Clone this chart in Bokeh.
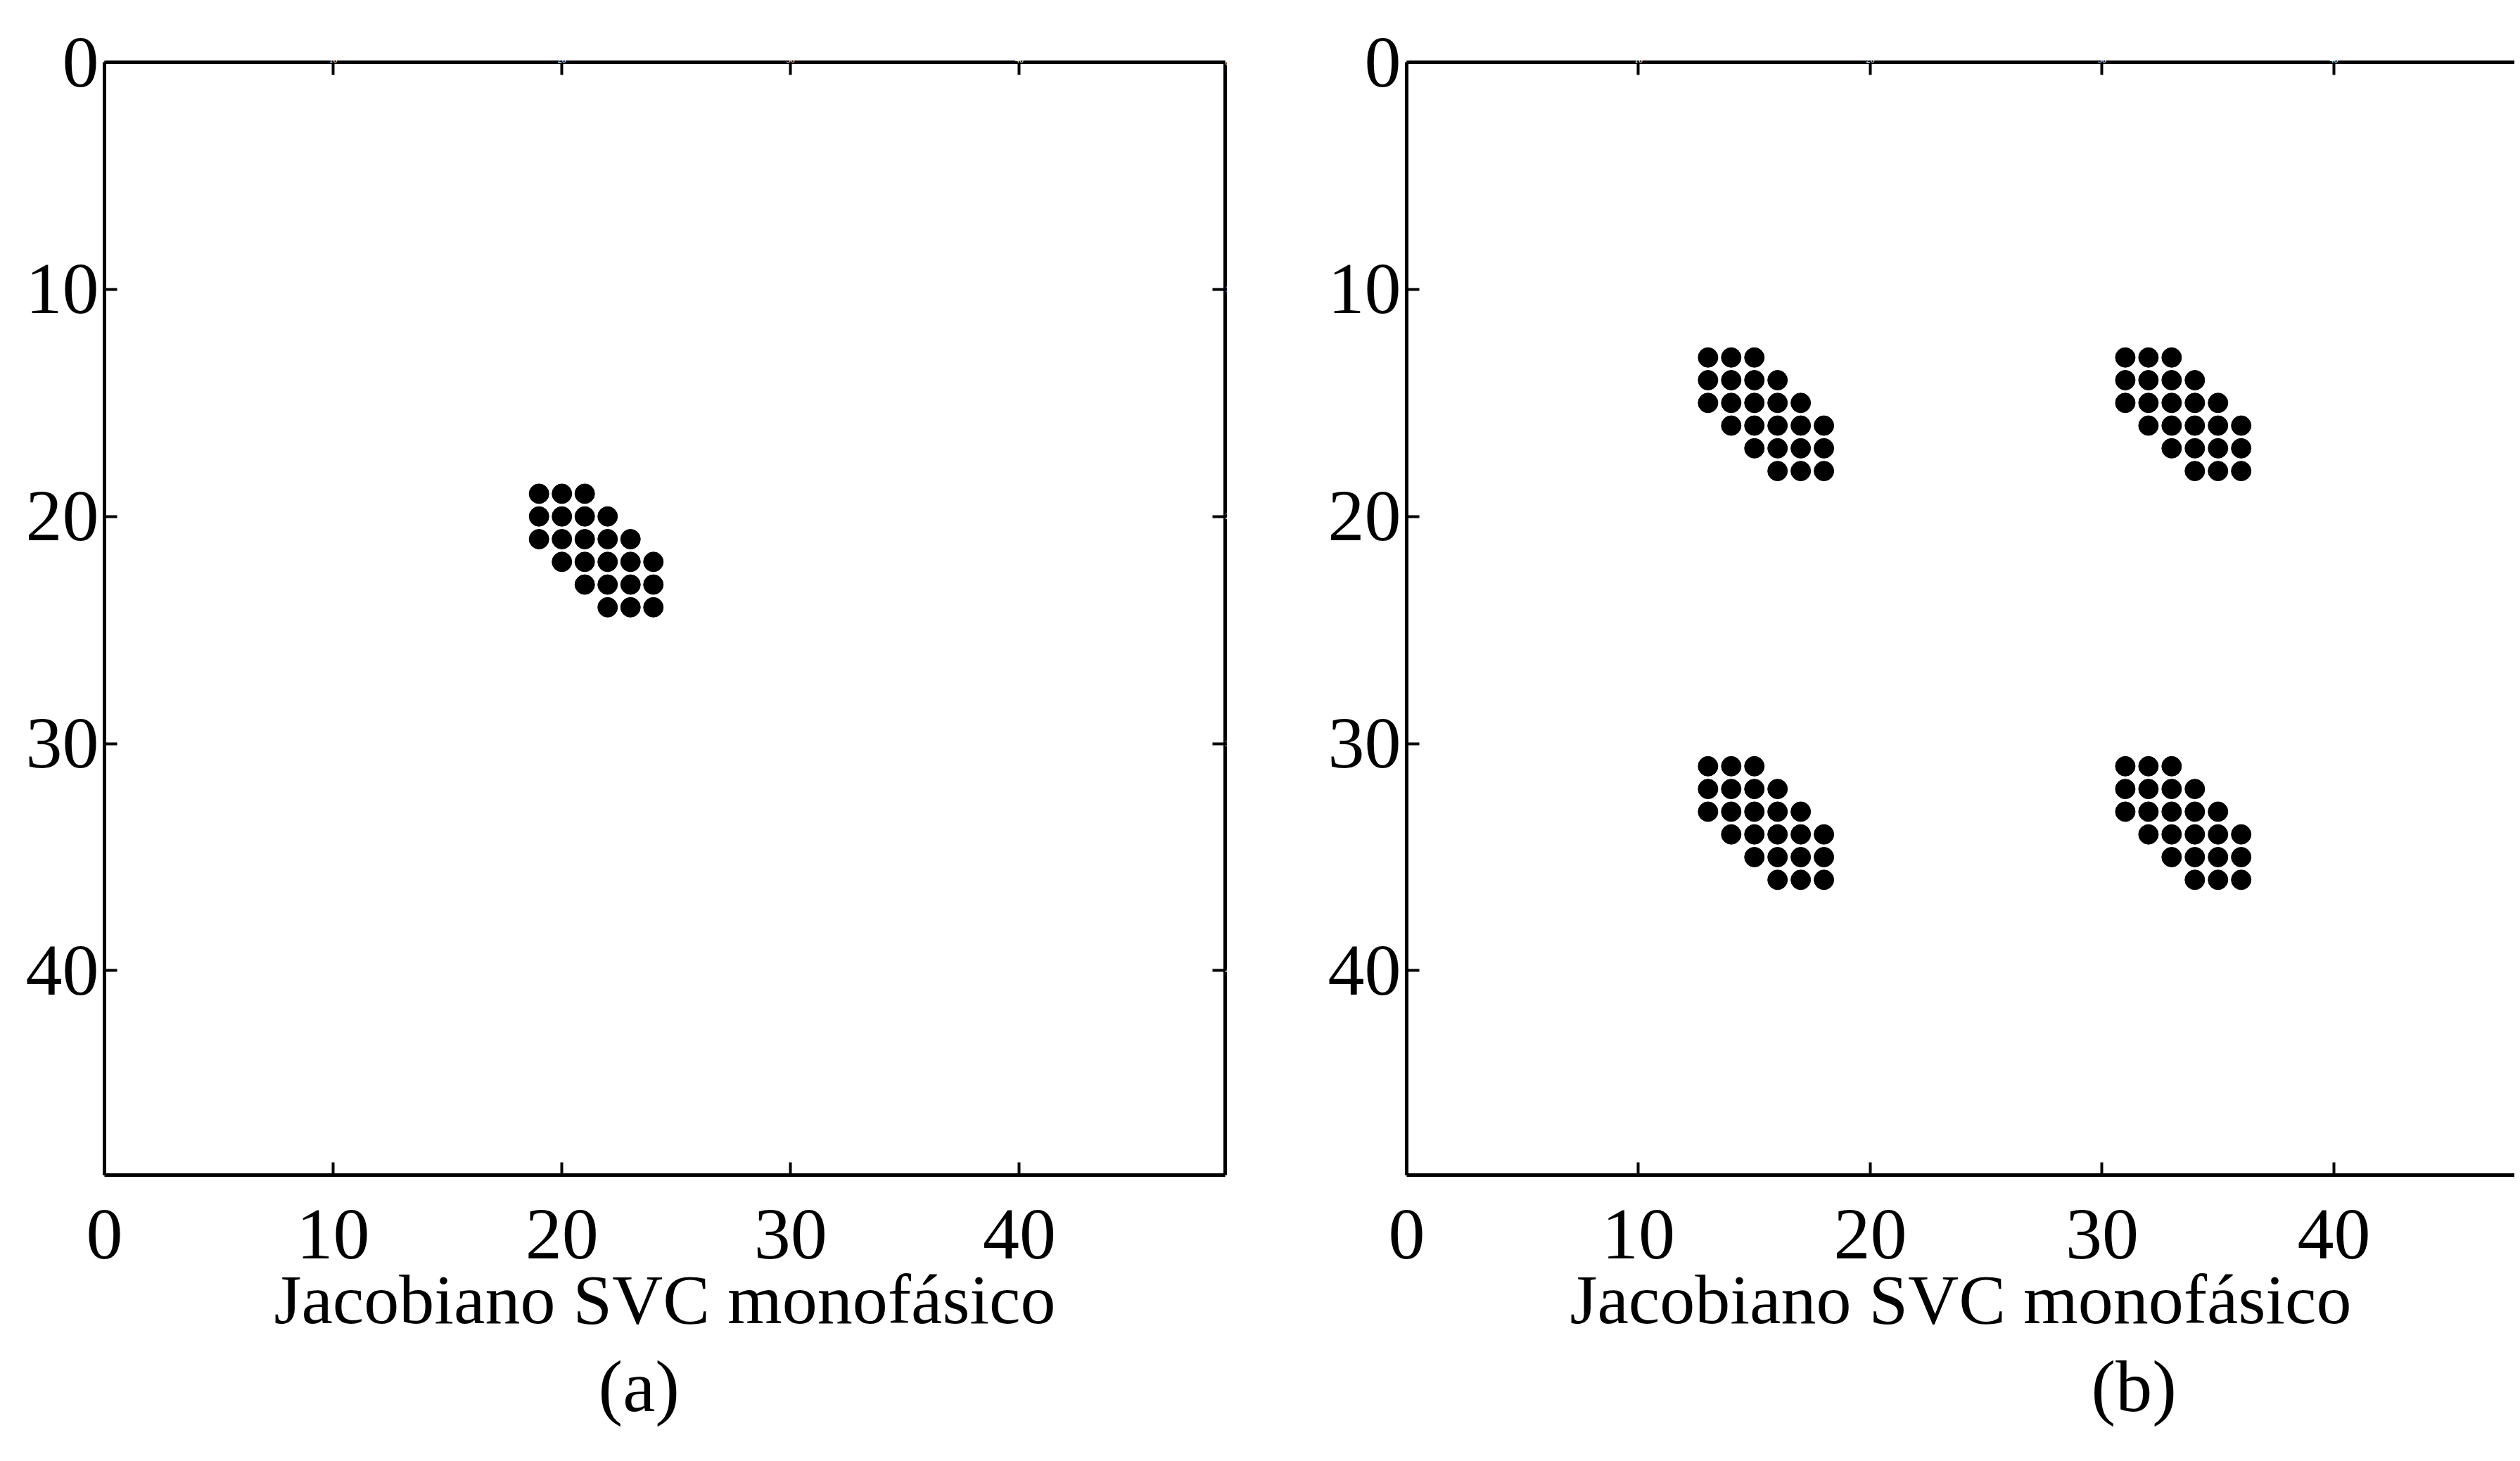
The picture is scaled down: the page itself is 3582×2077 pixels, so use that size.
from bokeh.plotting import figure
from bokeh.models import Range1d, LinearAxis, FixedTicker, Title
from bokeh.layouts import row
from bokeh.embed import file_html
from bokeh.resources import INLINE

# ---- data (sparsity pattern) ----
tick_values = [0, 10, 20, 30, 40]
x_label = "Jacobiano SVC monofásico"
captions = ["(a)", "(b)"]

# panel (a): nonzero entries (row, column)
a_row = [19, 19, 19,
         20, 20, 20, 20,
         21, 21, 21, 21, 21,
         22, 22, 22, 22, 22,
         23, 23, 23, 23,
         24, 24, 24]
a_col = [19, 20, 21,
         19, 20, 21, 22,
         19, 20, 21, 22, 23,
         20, 21, 22, 23, 24,
         21, 22, 23, 24,
         22, 23, 24]

# panel (b): four blocks
b_row_tl = [13, 13, 13, 14, 14, 14, 14, 15, 15, 15, 15, 15,
            16, 16, 16, 16, 16, 17, 17, 17, 17, 18, 18, 18]
b_col_tl = [13, 14, 15, 13, 14, 15, 16, 13, 14, 15, 16, 17,
            14, 15, 16, 17, 18, 15, 16, 17, 18, 16, 17, 18]
b_row_tr = [13, 13, 13, 14, 14, 14, 14, 15, 15, 15, 15, 15,
            16, 16, 16, 16, 16, 17, 17, 17, 17, 18, 18, 18]
b_col_tr = [31, 32, 33, 31, 32, 33, 34, 31, 32, 33, 34, 35,
            32, 33, 34, 35, 36, 33, 34, 35, 36, 34, 35, 36]
b_row_bl = [31, 31, 31, 32, 32, 32, 32, 33, 33, 33, 33, 33,
            34, 34, 34, 34, 34, 35, 35, 35, 35, 36, 36, 36]
b_col_bl = [13, 14, 15, 13, 14, 15, 16, 13, 14, 15, 16, 17,
            14, 15, 16, 17, 18, 15, 16, 17, 18, 16, 17, 18]
b_row_br = [31, 31, 31, 32, 32, 32, 32, 33, 33, 33, 33, 33,
            34, 34, 34, 34, 34, 35, 35, 35, 35, 36, 36, 36]
b_col_br = [31, 32, 33, 31, 32, 33, 34, 31, 32, 33, 34, 35,
            32, 33, 34, 35, 36, 33, 34, 35, 36, 34, 35, 36]

b_row = b_row_tl + b_row_tr + b_row_bl + b_row_br
b_col = b_col_tl + b_col_tr + b_col_bl + b_col_br

FONT = "Liberation Serif"
FIG_H = 2060


def style_axis(ax, labels=True):
    ax.ticker = FixedTicker(ticks=tick_values)
    ax.axis_line_width = 5
    ax.axis_line_color = "black"
    ax.major_tick_line_width = 4
    ax.major_tick_line_color = "black"
    ax.major_tick_in = 18
    ax.major_tick_out = 0
    ax.minor_tick_line_color = None
    ax.major_label_text_font = FONT
    ax.major_label_text_font_style = "normal"
    ax.major_label_text_color = "black"
    if labels:
        ax.major_label_text_font_size = "104px"
    else:
        ax.major_label_text_font_size = "12px"
        ax.major_label_text_color = "white"
        ax.major_label_standoff = 0


def make_panel(width, x_end, rows, cols, caption, cap_offset,
               border_left, border_top, border_right, right_axis):
    p = figure(width=width, height=FIG_H,
               x_range=Range1d(0, x_end), y_range=Range1d(49, 0),
               output_backend="svg", toolbar_location=None,
               min_border_left=border_left, min_border_top=border_top,
               min_border_right=border_right,
               min_border_bottom=FIG_H - 1670)
    p.outline_line_color = None
    p.xgrid.visible = False
    p.ygrid.visible = False

    bottom = p.xaxis[0]
    style_axis(bottom)
    bottom.axis_label = x_label
    bottom.major_label_standoff = 50
    bottom.axis_label_text_font = FONT
    bottom.axis_label_text_font_style = "normal"
    bottom.axis_label_text_font_size = "100px"
    bottom.axis_label_text_color = "black"
    bottom.axis_label_standoff = 0

    left = p.yaxis[0]
    style_axis(left)
    left.major_label_standoff = 8

    top = LinearAxis()
    style_axis(top, labels=False)
    p.add_layout(top, "above")

    if right_axis:
        right = LinearAxis()
        style_axis(right, labels=False)
        p.add_layout(right, "right")

    p.scatter(x=cols, y=rows, size=28, color="black")

    cap = Title(text=caption, align="left", offset=cap_offset,
                text_font=FONT, text_font_style="normal",
                text_font_size="104px", text_color="black",
                standoff=10)
    p.add_layout(cap, "below")
    return p


fa = make_panel(1800, 49, a_row, a_col, captions[0], 702,
                148, 88, 59, True)
fb = make_panel(1774, 47.8, b_row, b_col, captions[1], 973,
                199, 66, 0, False)

layout = row(fa, fb)
open("out.html", "w").write(file_html(layout, INLINE))
